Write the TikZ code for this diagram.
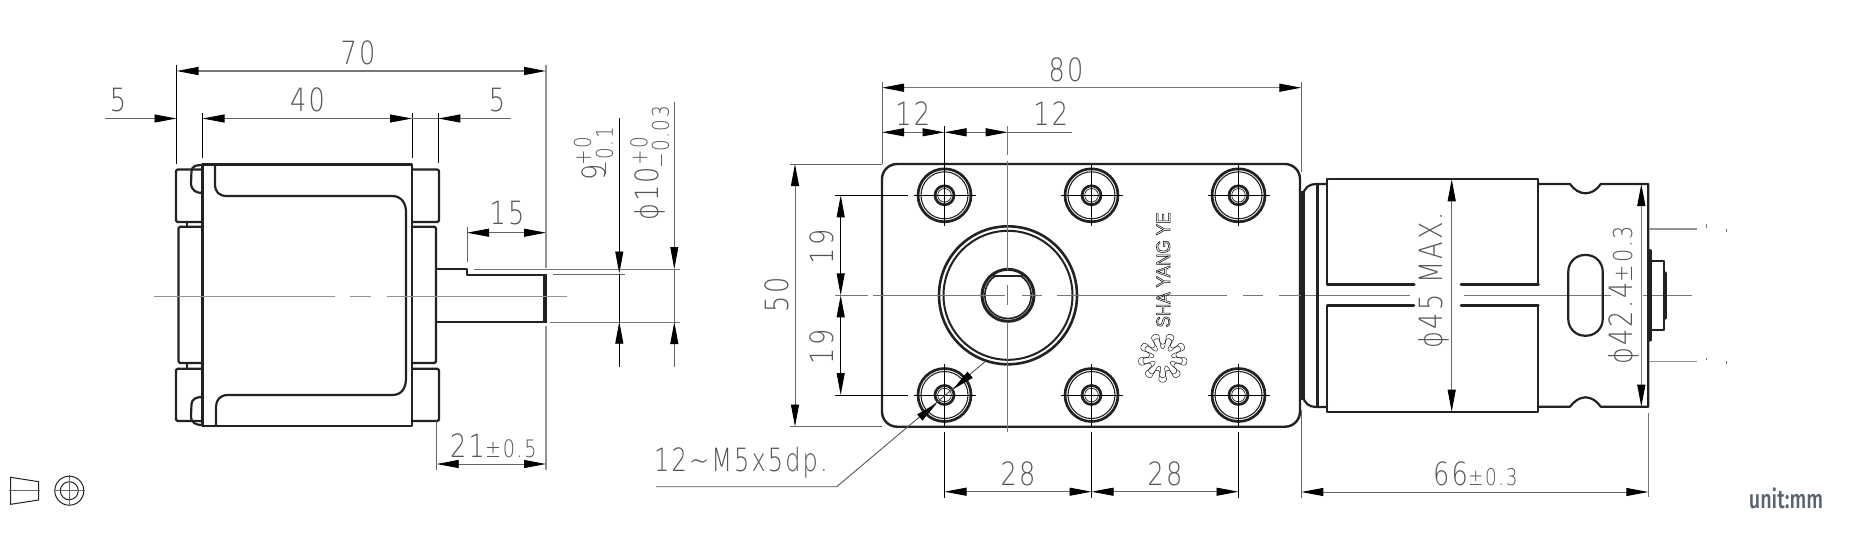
\documentclass[tikz,border=0pt]{standalone}
\usepackage{fontspec}
\usepackage{graphicx}
\usetikzlibrary{arrows.meta}
\newfontfamily\cadf[FakeStretch=0.8,LetterSpace=7]{DejaVu Sans ExtraLight}
\newfontfamily\logof[FakeStretch=0.88]{Liberation Sans}
\newfontfamily\unitf[FakeStretch=0.76]{Fira Sans Medium}
\definecolor{bodyc}{HTML}{222222}
\definecolor{dimc}{HTML}{666666}
\definecolor{txtc}{HTML}{555555}
\definecolor{cenc}{HTML}{777777}
\tikzset{
  >={Triangle[length=22pt,width=8pt,color=black]},
  body/.style={draw=bodyc,line width=2.2pt,line join=round,line cap=round},
  bodyb/.style={body,line width=3.2pt},
  ring/.style={draw=bodyc,line width=1.1pt},
  dim/.style={draw=dimc,line width=.9pt},
  dimk/.style={draw=black,line width=.9pt},
  ext/.style={draw=dimc,line width=.9pt},
  extk/.style={draw=black,line width=.8pt},
  cen/.style={draw=cenc,line width=1pt},
  cenb/.style={draw=cenc!80,line width=1.5pt},
  cad/.style={inner sep=0pt,text=txtc,font=\cadf\fontsize{32}{32}\selectfont},
  cads/.style={inner sep=0pt,text=txtc,font=\cadf\fontsize{23}{23}\selectfont},
}
\newcommand{\holeat}[2]{%
  \draw[body,line width=2.7pt] (#1,#2) circle (26.5);
  \draw[ring] (#1,#2) circle (23.5);
  \draw[body,line width=2.7pt] (#1,#2) circle (9.5);
  \draw[ring,line width=.7pt] (#1,#2) circle (6.8);
  \draw[extk] (#1-31,#2) -- (#1+31,#2) (#1,#2-31) -- (#1,#2+31);
}
\begin{document}
\begin{tikzpicture}[x=1pt,y=-1pt]
\useasboundingbox (0,0) rectangle (1850,539);
\fill[white] (0,0) rectangle (1850,539);
%%% LEFT VIEW
\draw[body] (202.5,164.5) rectangle (412,426);
\draw[body] (215,164.5) -- (215,184) .. controls (215,192) and (219,196) .. (227,196) -- (392,196) .. controls (402,196) and (406,204) .. (406,212) -- (406,378) .. controls (406,388) and (402,395) .. (392,395) -- (228,395) .. controls (220,395) and (216,400) .. (216,407) -- (216,426);
\draw[body,rounded corners=1.5pt] (202.5,169.5) -- (176,169.5) -- (176,222) -- (202.5,222);
\draw[body,rounded corners=1.5pt] (202.5,368.7) -- (176,368.7) -- (176,421) -- (202.5,421);
\draw[body,rounded corners=1.5pt] (202.5,226.7) -- (178.5,226.7) -- (178.5,363) -- (202.5,363);
\draw[body,rounded corners=1.5pt] (412,169.5) -- (439,169.5) -- (439,222) -- (412,222);
\draw[body,rounded corners=1.5pt] (412,368.7) -- (439,368.7) -- (439,421) -- (412,421);
\draw[body,rounded corners=1.5pt] (412,226.7) -- (436,226.7) -- (436,363) -- (412,363);
\draw[body] (202.5,165) .. controls (196,165) and (192,166) .. (191.5,171) -- (191,183) .. controls (191,190) and (196,193) .. (202,193);
\draw[body] (202.5,397) .. controls (196,397) and (192,399) .. (191.5,404) -- (191,416) .. controls (191,423) and (196,425) .. (202,425);
\draw[body,line width=1.5pt] (187,222) -- (187,227) (187,363) -- (187,369);
% shaft
\draw[body] (436,269) -- (467,269) -- (467,275) -- (545,275) (436,321.7) -- (545,321.7);
\draw[body,line width=4pt,line cap=butt] (545,274) -- (545,322.7);
% centre line
\draw[cenb] (154,296.7) -- (335,296.7) (350,296.7) -- (371,296.7) (387,296.7) -- (566.7,296.7);
% dims left
\draw[extk] (176.5,65) -- (176.5,164);
\draw[extk] (202.5,113) -- (202.5,158);
\draw[extk] (412,113) -- (412,158);
\draw[extk] (438.3,113) -- (438.3,163);
\draw[cenb,line width=1.2pt] (546,65) -- (546,268) (546,326) -- (546,470);
\draw[dim,<->,line width=1.3pt,draw=cenc] (176.5,71) -- (546,71);
\draw[dim,->] (105,118.5) -- (176.5,118.5);
\draw[dim,<->] (202.5,118.5) -- (412,118.5);
\draw[dim] (412,118.5) -- (438.3,118.5);
\draw[dim,<-] (438.3,118.5) -- (511,118.5);
\node[cad] (t70) at (358,52.7) {70};
\node[cad] (t5a) at (118,100) {5};
\node[cad] (t40) at (307.5,100) {40};
\node[cad] (t5b) at (497,100) {5};
\draw[ext] (467,227) -- (467,262);
\draw[dim,<->] (467,232.7) -- (546,232.7);
\node[cad] (t15) at (507,213) {15};
\draw[extk,draw=dimc] (553,274.5) -- (625,274.5);
\draw[cen] (474,269) -- (680,269) (550,322) -- (680,322);
\draw[dimk,<-] (619.3,273.5) -- (619.3,118);
\draw[dimk,<-] (619.3,321.7) -- (619.3,366.7);
\draw[dim,<-] (674.3,269) -- (674.3,101.7);
\draw[dim,<-] (674.3,322) -- (674.3,367);
\draw[dim] (674.3,269) -- (674.3,322);
\draw[dimk] (619.3,273.5) -- (619.3,321.7);
\node[cad,rotate=90] (t9) at (593.5,172) {9};
\node[cads,rotate=90] (t9p) at (582.5,151.5) {+0};
\node[cads,rotate=90] (t9m) at (604.5,152) {−0.1};
\node[cad,rotate=90] (t10) at (649.5,194) {ϕ10};
\node[cads,rotate=90] (t10p) at (639,151.5) {+0};
\node[cads,rotate=90] (t10m) at (660.5,137.5) {−0.03};
% 21
\draw[ext] (436.7,421) -- (436.7,470);
\draw[dim,<->] (436.7,464) -- (546,464);
\node[cad,anchor=west] (t21) at (450,445.7) {21\fontsize{24}{24}\selectfont ±0.5};
% icons
\draw[bodyc,line width=1pt] (10.7,477.3) -- (38.7,481.7) -- (38.7,500) -- (10.7,504.3) -- cycle;
\draw[dimc,line width=.7pt] (9,490.7) -- (40,490.7);
\draw[bodyc,line width=1pt] (69.3,490.7) circle (14.5);
\draw[bodyc,line width=1pt] (69.3,490.7) circle (9);
\draw[dimc,line width=.7pt] (54,490.7) -- (85,490.7) (69.3,475) -- (69.3,506);
%%% RIGHT VIEW plate
\draw[body,line width=2.4pt,rounded corners=15pt] (882,164) rectangle (1300,426.7);
\foreach \hx in {944.5,1091.5,1238.5}{\holeat{\hx}{195.3}\holeat{\hx}{395}}
\draw[extk,line width=.5pt] (1007.7,291) -- (1007.7,299);
% big circle
\draw[body,line width=2.6pt] (1008,295.3) circle (69);
\draw[body,line width=2pt] (1008,295.3) circle (64.5);
\draw[body,line width=3pt] (1008,295.3) circle (26);
\begin{scope}
\clip (970,275) rectangle (1046,330);
\draw[ring,line width=1.6pt] (1008,295.3) circle (23.2);
\end{scope}
\draw[ring,line width=1.6pt] (993,276) -- (1023,276);
% centre lines right
\draw[cen] (835,295.3) -- (868,295.3) (873,295.3) -- (1005,295.3) (1021.7,295.3) -- (1042,295.3) (1057,295.3) -- (1226.7,295.3) (1242.7,295.3) -- (1263,295.3) (1279,295.3) -- (1410,295.3) (1464.3,295.3) -- (1611,295.3) (1643,295.3) -- (1691.7,295.3);
\draw[cen,line width=.8pt] (1007.7,126) -- (1007.7,155) (1007.7,161) -- (1007.7,270) (1007.7,285) -- (1007.7,305) (1007.7,322) -- (1007.7,431.7);
% dims top
\draw[ext] (882,81.7) -- (882,164);
\draw[ext] (1301.3,81.7) -- (1301.3,172) (1301.3,410) -- (1301.3,498);
\draw[dim,<->,line width=1.3pt,draw=cenc] (882,87.7) -- (1301.3,87.7);
\node[cad] (t80) at (1066,70) {80};
\draw[dim] (1007.7,132.3) -- (1071.7,132.3);
\draw[dim,<->] (882,132.3) -- (944.5,132.3);
\draw[dim,<->] (944.5,132.3) -- (1007.7,132.3);
\draw[extk] (944.5,126) -- (944.5,165);
\node[cad] (t12a) at (912.7,114) {12};
\node[cad] (t12b) at (1050.7,114) {12};
% dims left of plate
\draw[ext] (790,164) -- (882,164) (790,426.5) -- (882,426.5);
\draw[dimk,draw=dimc,<->] (795,164) -- (795,426.5);
\node[cad,rotate=90] (t50) at (776.7,295) {50};
\draw[extk] (835,195.3) -- (907.7,195.3) (835,395) -- (907.7,395);
\draw[dimk,<->] (840.7,195.3) -- (840.7,295.3);
\draw[dimk,<->] (840.7,295.3) -- (840.7,395);
\node[cad,rotate=90] (t19a) at (821.7,246.7) {19};
\node[cad,rotate=90] (t19b) at (821.7,346.7) {19};
% leader
\draw[dim,draw=txtc] (656,486.7) -- (836.7,486.7) -- (985,361.7);
\draw[dim,line width=.3pt,{Triangle[length=22pt,width=8pt,color=black]}-] (936.7,403.3) -- (918,419);
\draw[dim,line width=.3pt,{Triangle[length=22pt,width=8pt,color=black]}-] (953.3,389) -- (971,374);
\node[cad,anchor=west] (tm5) at (654,462.7) {\scalebox{0.94}[1]{12\textasciitilde M5x5dp.}};
% 28
\draw[extk] (944.5,431.7) -- (944.5,498) (1091.5,431.7) -- (1091.5,498) (1238.5,431.7) -- (1238.5,498);
\draw[dim,<->] (944.5,491.7) -- (1091.5,491.7);
\draw[dim,<->] (1091.5,491.7) -- (1238.5,491.7);
\node[cad] (t28a) at (1018,474) {28};
\node[cad] (t28b) at (1165,474) {28};
% logo
\node[inner sep=0pt,rotate=90,font=\logof\fontsize{19.5}{19.5}\selectfont] (tlogo) at (1163.3,270) {\special{pdf:code 1 Tr 0.5 w}SHA YANG YE\special{pdf:code 0 Tr 1 w}};
\draw[bodyc,line width=.5pt,smooth,samples=289,domain=0:360] plot ({1162.7+(14.5+5.5*sin(9*\x))*cos(\x-4*sin(18*\x))},{357.7+(14.5+5.5*sin(9*\x))*sin(\x-4*sin(18*\x))}) -- cycle;
\draw[bodyc,line width=.5pt,smooth,samples=289,domain=0:360] plot ({1162.7+(19+5.5*sin(9*\x))*cos(\x-4*sin(18*\x))},{357.7+(19+5.5*sin(9*\x))*sin(\x-4*sin(18*\x))}) -- cycle;
%%% MOTOR
\draw[bodyb,line width=4pt,line cap=butt] (1302.5,191) -- (1302.5,400);
\draw[body] (1303,195) .. controls (1304,188) and (1309,184) .. (1316,184) -- (1327,184);
\draw[body] (1303,396) .. controls (1304,403) and (1309,407) .. (1316,407) -- (1327,407);
\draw[bodyb,line cap=butt] (1317.3,184) -- (1317.3,407);
\draw[body] (1327.3,284.3) -- (1327.3,179.3) -- (1538.3,179.3) -- (1538.3,284.3);
\draw[body] (1327.3,305.7) -- (1327.3,411.7) -- (1538.3,411.7) -- (1538.3,305.7);
\draw[body,line width=3pt] (1414,284.3) -- (1327.3,284.3) (1461,284.3) -- (1538.3,284.3);
\draw[body,line width=2.6pt] (1414,305.7) -- (1327.3,305.7) (1461,305.7) -- (1538.3,305.7);
\draw[dim,draw=dimc,<->] (1451.7,179.3) -- (1451.7,411.7);
\node[cad,rotate=90] (t45) at (1434,280) {ϕ45 MAX.};
\draw[body] (1538.3,184) -- (1570,184) .. controls (1574,190) and (1580,193.3) .. (1585.5,193.3) .. controls (1591,193.3) and (1597,190) .. (1600.7,184) -- (1648.3,184) -- (1648.3,406.7) -- (1600.7,406.7) .. controls (1597,401) and (1591,397.3) .. (1585.5,397.3) .. controls (1580,397.3) and (1574,401) .. (1570,406.7) -- (1538.3,406.7);
\draw[body,rounded corners=16.5pt] (1568.3,255) rectangle (1602.7,335.7);
\draw[bodyb] (1650,250.7) -- (1650,340);
\draw[body] (1651,260.7) -- (1664,260.7) -- (1664,330) -- (1651,330);
\draw[bodyb] (1665.5,273) -- (1665.5,318);
\draw[cenb,line width=2pt] (1649,229.3) -- (1697,229.3);
\draw[cenb] (1649,361.3) -- (1697,361.3);
\draw[cen] (1706.7,224) -- (1706.7,228) (1726.7,229) -- (1726.7,232) (1706.7,358) -- (1706.7,360) (1726.7,361) -- (1726.7,364);
\draw[dim,<->,draw=cenc,line width=1.2pt] (1641.3,184) -- (1641.3,406.7);
\node[cad,rotate=90] (t42) at (1624,295.5) {ϕ42.4{\fontsize{26}{26}\selectfont ±0.3}};
% 66
\draw[ext,draw=cenc,line width=1.2pt] (1648.3,413) -- (1648.3,497);
\draw[dim,<->] (1301.3,492) -- (1648.3,492);
\node[cad,anchor=west] (t66) at (1433,474) {66{\fontsize{23}{23}\selectfont ±0.3}};
\node[inner sep=0pt,anchor=center,text={rgb,255:red,88;green,98;blue,112},font=\unitf\fontsize{26}{26}\selectfont] (tunit) at (1786,498) {unit:mm};
\end{tikzpicture}
\end{document}
